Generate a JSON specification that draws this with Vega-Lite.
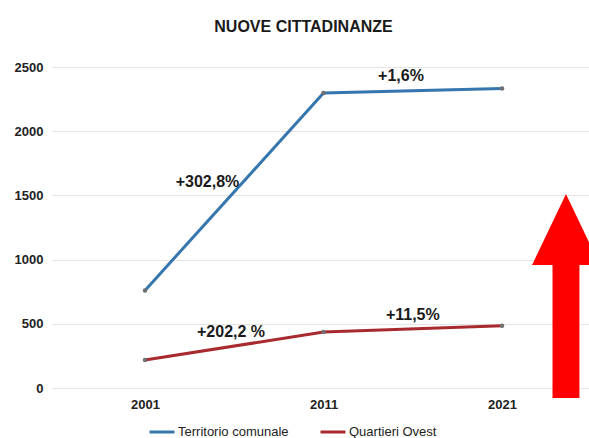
{
  "$schema": "https://vega.github.io/schema/vega-lite/v6.json",
  "width": 537,
  "height": 321,
  "autosize": {"type": "none"},
  "padding": {"left": 52, "top": 67, "right": 0, "bottom": 50},
  "background": "white",
  "title": {"text": "NUOVE CITTADINANZE", "font": "Liberation Sans", "fontSize": 16, "fontWeight": "bold", "color": "#1a1a1a", "anchor": "middle", "dx": -17, "offset": 13, "baseline": "alphabetic"},
  "config": {"view": {"stroke": null}, "font": "Liberation Sans"},
  "datasets": {
    "serie": [
      {"anno": 2001, "serie": "Territorio comunale", "valore": 760},
      {"anno": 2011, "serie": "Territorio comunale", "valore": 2297},
      {"anno": 2021, "serie": "Territorio comunale", "valore": 2332},
      {"anno": 2001, "serie": "Quartieri Ovest", "valore": 218},
      {"anno": 2011, "serie": "Quartieri Ovest", "valore": 436},
      {"anno": 2021, "serie": "Quartieri Ovest", "valore": 485}
    ],
    "etichette": [
      {"anno": 2004.5, "valore": 1604, "testo": "+302,8%"},
      {"anno": 2015.34, "valore": 2430, "testo": "+1,6%"},
      {"anno": 2005.82, "valore": 436, "testo": "+202,2 %"},
      {"anno": 2016.0, "valore": 569, "testo": "+11,5%"}
    ],
    "freccia": [
      {"anno": 2024.58, "valore": 716}
    ]
  },
  "encoding": {
    "x": {"field": "anno", "type": "quantitative",
      "scale": {"domain": [1995.79, 2025.87], "nice": false, "zero": false},
      "axis": {"title": null, "values": [2001, 2011, 2021], "format": "d", "grid": false, "domain": false, "ticks": false, "labelPadding": 10, "labelFont": "Liberation Sans", "labelFontSize": 13, "labelFontWeight": "bold", "labelColor": "#222"}},
    "y": {"field": "valore", "type": "quantitative",
      "scale": {"domain": [0, 2500], "nice": false},
      "axis": {"title": null, "values": [0, 500, 1000, 1500, 2000, 2500], "format": "d", "grid": true, "gridColor": "#e4e4e4", "gridWidth": 1, "domain": false, "ticks": false, "labelPadding": 9, "labelFont": "Liberation Sans", "labelFontSize": 13, "labelFontWeight": "bold", "labelColor": "#222"}}
  },
  "layer": [
    {
      "data": {"name": "serie"},
      "mark": {"type": "line", "strokeWidth": 3},
      "encoding": {
        "color": {"field": "serie", "type": "nominal",
          "scale": {"domain": ["Territorio comunale", "Quartieri Ovest"], "range": ["#3476ad", "#a82a2e"]},
          "legend": {"orient": "none", "legendX": 96, "legendY": 351, "direction": "horizontal", "title": null, "symbolType": "stroke", "symbolSize": 625, "symbolStrokeWidth": 3, "labelFontSize": 13, "labelFont": "Liberation Sans", "labelColor": "#222", "columnPadding": 25, "labelOffset": 2, "padding": 0}}
      }
    },
    {
      "data": {"name": "serie"},
      "mark": {"type": "point", "filled": true, "size": 20, "color": "#707070", "opacity": 1}
    },
    {
      "data": {"name": "etichette"},
      "mark": {"type": "text", "fontSize": 16, "fontWeight": "bold", "font": "Liberation Sans", "color": "#1a1a1a", "baseline": "middle", "align": "center"},
      "encoding": {"text": {"field": "testo", "type": "nominal"}}
    },
    {
      "data": {"name": "freccia"},
      "mark": {"type": "point", "filled": true, "opacity": 1, "color": "#ff0000", "size": 41616, "shape": "M0,-1L0.333,-0.304L0.132,-0.304L0.132,1L-0.132,1L-0.132,-0.304L-0.333,-0.304Z"}
    }
  ]
}
